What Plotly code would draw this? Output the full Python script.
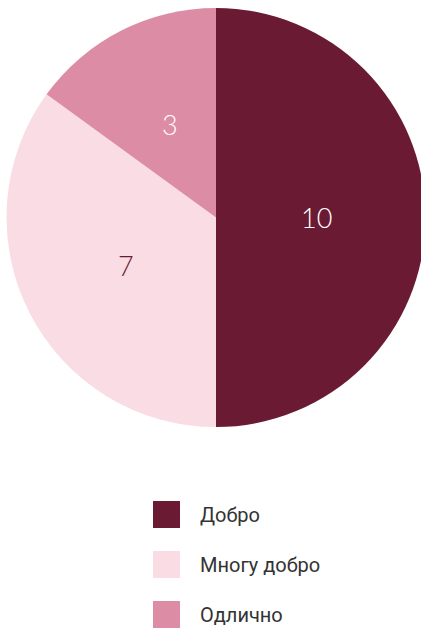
import math
import plotly.graph_objects as go

labels = ["Добро", "Многу добро", "Одлично"]
values = [10, 7, 3]
colors = ["#6a1a33", "#f9dce4", "#dc8ca4"]
text_colors = ["#ffffff", "#6a1a33", "#ffffff"]

W, H = 432, 628
CX, CY, R = 216, 217.5, 209.5  # pie centre / radius in pixels

fig = go.Figure()
fig.add_trace(go.Pie(
    labels=labels, values=values, sort=False, direction="clockwise", rotation=0,
    marker=dict(colors=colors, line=dict(width=0)),
    textinfo="none",
    hoverinfo="label+value",
    domain=dict(x=[(CX - R) / W, (CX + R) / W], y=[1 - (CY + R) / H, 1 - (CY - R) / H]),
    showlegend=False,
))

shapes = []
annotations = []
total = sum(values)
cum = 0
for v, tc in zip(values, text_colors):
    mid = (cum + v / 2) / total * 2 * math.pi
    cum += v
    px = CX + 0.48 * R * math.sin(mid)
    py = CY - 0.5 * R * math.cos(mid)
    annotations.append(dict(xref="paper", yref="paper", x=px / W, y=1 - py / H,
                            text=str(v), showarrow=False, xanchor="center", yanchor="middle",
                            font=dict(family="Lato", size=27, color=tc, weight=300)))

for i, (lab, col) in enumerate(zip(labels, colors)):
    top = 501 + 50 * i
    shapes.append(dict(type="rect", xref="paper", yref="paper",
                       x0=153 / W, x1=180 / W, y0=1 - (top + 27) / H, y1=1 - top / H,
                       fillcolor=col, line=dict(width=0)))
    annotations.append(dict(xref="paper", yref="paper", x=198 / W, y=1 - (top + 14) / H,
                            text=lab, showarrow=False, xanchor="left", yanchor="middle",
                            font=dict(family="Roboto", size=20, color="#333333")))

fig.update_layout(width=W, height=H, margin=dict(l=0, r=0, t=0, b=0),
                  paper_bgcolor="white", plot_bgcolor="white",
                  shapes=shapes, annotations=annotations)
fig.write_html("out.html")
